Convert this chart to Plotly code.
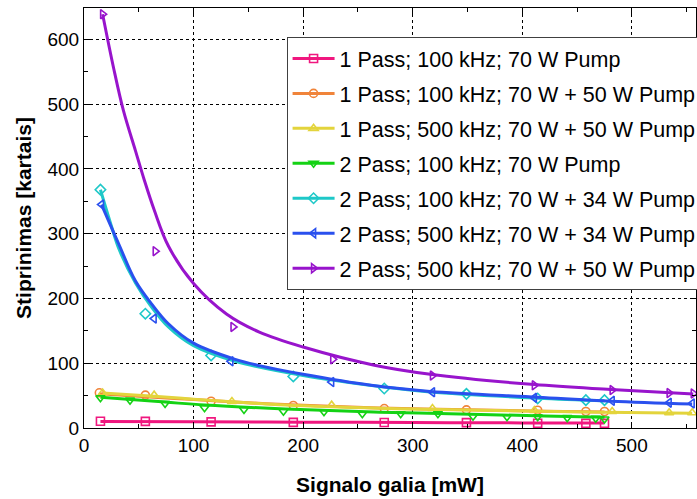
import plotly.graph_objects as go

# ---------------- data ----------------
names = [
    "1 Pass; 100 kHz; 70 W Pump",
    "1 Pass; 100 kHz; 70 W + 50 W Pump",
    "1 Pass; 500 kHz; 70 W + 50 W Pump",
    "2 Pass; 100 kHz; 70 W Pump",
    "2 Pass; 100 kHz; 70 W + 34 W Pump",
    "2 Pass; 500 kHz; 70 W + 34 W Pump",
    "2 Pass; 500 kHz; 70 W + 50 W Pump",
]

# measured points
p1_x = [15, 56, 116, 191, 274, 349, 414, 458, 475]
p1_y = [10.5, 10.3, 9.5, 8.7, 8.5, 8.3, 7.3, 7.1, 7.2]
p2_x = [14, 56, 116, 191, 274, 349, 414, 458, 475]
p2_y = [54.4, 50.7, 41.4, 34.8, 30, 28, 27.5, 25.5, 25.5]
p3_x = [17, 64, 135, 226, 318, 411, 482, 534, 555]
p3_y = [54, 50.7, 41, 35.3, 30, 27, 25.5, 23.5, 23.5]
p4_x = [15, 42, 74, 110, 146, 182, 219, 254, 289, 323, 355, 386, 414, 441, 467, 475]
p4_y = [46.7, 43, 37.9, 31.2, 28.6, 26, 25, 22, 22, 22, 18.3, 17.3, 17.3, 16, 15, 14]
p5_x = [15, 56, 116, 191, 274, 349, 414, 458, 475]
p5_y = [368, 176.5, 112, 79.6, 61, 52.8, 45.6, 43, 43]
p6_x = [16, 64, 134, 226, 318, 411, 482, 534, 555]
p6_y = [345, 169, 103, 71, 55.3, 46.6, 42, 39, 37.9]
p7_x = [17, 65, 136, 227, 318, 411, 482, 534, 556]
p7_y = [639, 273, 156, 106, 81, 66, 58.5, 54, 53.3]

# fitted curves
f1_x = [15, 100, 200, 300, 400, 475]
f1_y = [10.2, 9.6, 9.0, 8.4, 7.9, 7.6]
f2_x = [14, 60, 100, 150, 200, 270, 350, 420, 475]
f2_y = [53, 48, 44, 39, 35, 31, 28, 26, 24.8]
f3_x = [17, 64, 100, 135, 184, 270, 362, 475, 555]
f3_y = [54, 49, 44.5, 40.5, 35.5, 30.5, 27.5, 24.5, 22.8]
f4_x = [15, 74, 110, 184, 270, 362, 420, 475]
f4_y = [47.5, 40, 35.5, 29.5, 24.5, 21, 18.5, 16.5]
f5_x = [15, 25, 32, 47, 62, 77, 100, 138, 200, 270, 316, 414, 475]
f5_y = [368, 312, 276, 224, 186, 156, 127, 103, 81, 64, 55.5, 46, 42]
f6_x = [16, 32, 47, 62, 77, 100, 138, 161, 200, 262, 316, 414, 481, 555]
f6_y = [345, 283, 227, 191, 161, 131, 106, 96, 83, 66, 56.5, 47.6, 41.4, 37]
f7_x = [17, 27, 36, 47, 55, 64, 77, 100, 130, 160, 200, 265, 316, 411, 481, 556]
f7_y = [639, 556, 490, 428, 383, 337, 281, 223, 176, 148, 125, 97, 83, 67, 59.5, 52.5]

x_ticks = [0, 100, 200, 300, 400, 500]
y_ticks = [0, 100, 200, 300, 400, 500, 600]

# ---------------- styling ----------------
colors = ["#f0177f", "#f0843a", "#e3d43c", "#14d214", "#1ec8c8", "#2a50ee", "#9814cc"]
symbols = ["square-open", "circle-open", "triangle-up-open", "triangle-down-open",
           "diamond-open", "triangle-left-open", "triangle-right-open"]

pts = [(p1_x, p1_y), (p2_x, p2_y), (p3_x, p3_y), (p4_x, p4_y),
       (p5_x, p5_y), (p6_x, p6_y), (p7_x, p7_y)]
fits = [(f1_x, f1_y), (f2_x, f2_y), (f3_x, f3_y), (f4_x, f4_y),
        (f5_x, f5_y), (f6_x, f6_y), (f7_x, f7_y)]

fig = go.Figure()
for i in range(7):
    fx, fy = fits[i]
    px, py = pts[i]
    fig.add_trace(go.Scatter(x=fx, y=fy, mode="lines", line=dict(color=colors[i], width=3, shape="spline"),
                             showlegend=False, hoverinfo="skip"))
    fig.add_trace(go.Scatter(x=px, y=py, mode="markers",
                             marker=dict(symbol=symbols[i], size=8, color=colors[i], line=dict(width=1.6, color=colors[i])),
                             showlegend=False))
    # legend entry (line + marker)
    fig.add_trace(go.Scatter(x=[None], y=[None], mode="lines+markers", name=names[i],
                             legendgroup="g%d" % i,
                             line=dict(color=colors[i], width=3),
                             marker=dict(symbol=symbols[i], size=8, color=colors[i], line=dict(width=1.6, color=colors[i]))))

axis_common = dict(
    showline=True, linecolor="black", linewidth=1.2, mirror="allticks",
    ticks="inside", ticklen=6, tickcolor="black", tickwidth=1,
    showgrid=True, gridcolor="black", gridwidth=1, griddash="dot",
    zeroline=False,
    tickfont=dict(family="Liberation Sans, Arial", size=19, color="black"),
    minor=dict(ticks="inside", ticklen=4, tickcolor="black", dtick=50, showgrid=False),
)

fig.update_layout(
    width=697, height=499,
    margin=dict(l=84, r=1, t=8, b=71, autoexpand=False),
    paper_bgcolor="white", plot_bgcolor="white",
    font=dict(family="Liberation Sans, Arial", color="black"),
    xaxis=dict(range=[0, 558.5], tickvals=x_ticks,
               title=dict(text="<b>Signalo galia [mW]</b>", font=dict(size=21), standoff=22),
               **axis_common),
    yaxis=dict(range=[0, 648.6], tickvals=y_ticks,
               title=dict(text="<b>Stiprinimas [kartais]</b>", font=dict(size=21), standoff=10),
               **axis_common),
    legend=dict(x=0.331, y=0.931, xanchor="left", yanchor="top",
                bgcolor="white", bordercolor="#404040", borderwidth=1,
                font=dict(size=21.5, color="black"), itemwidth=42,
                tracegroupgap=4),
)

fig.write_html("out.html")
